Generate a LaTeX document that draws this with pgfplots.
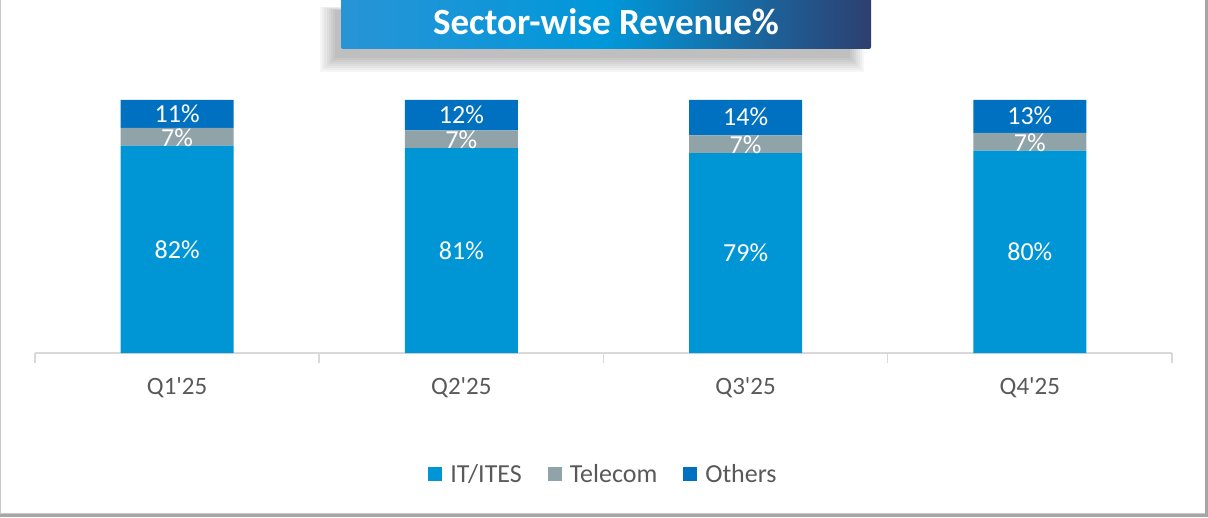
\documentclass[border=0pt]{standalone}
\usepackage{pgfplots}
\pgfplotsset{compat=1.18}
\usepackage{fontspec}
\setmainfont{Carlito}
\definecolor{itc}{HTML}{0096D6}
\definecolor{tel}{HTML}{8FA3A8}
\definecolor{oth}{HTML}{0070C0}
\definecolor{txt}{HTML}{595959}
\definecolor{axg}{HTML}{D9D9D9}
\definecolor{tl}{HTML}{2894D6}
\definecolor{tm}{HTML}{0098DA}
\definecolor{tr}{HTML}{2E3F70}
\begin{document}
\begin{tikzpicture}[x=1pt,y=1pt]
\useasboundingbox (0,0) rectangle (1208,517);
% chart frame
\draw[draw=axg!80!gray, line width=1pt] (0.5,3.5) rectangle (1205,517);
\draw[draw=gray!70, line width=2.5pt] (1206.5,2) -- (1206.5,517);
\draw[draw=gray!70, line width=2.5pt] (0,1.5) -- (1208,1.5);
% title shadow
\foreach \i in {0,...,7}{
  \fill[black, opacity=0.035] (320+\i*2.2,445+\i*2) rectangle (864-\i*2,510-\i*0.5);
}
% title box
\shade[left color=tl, right color=tr, middle color=tm, rounded corners=2pt] (341,468) rectangle (871,519);
\node[text=white, font=\fontsize{37}{44}\selectfont\bfseries] at (606,495) {Sector-wise Revenue\%};
\begin{axis}[
  at={(35pt,164pt)}, anchor=south west,
  scale only axis, width=1137pt, height=253pt,
  xmin=-0.5, xmax=3.5, ymin=0, ymax=100,
  ybar stacked, bar width=113pt,
  axis y line=none, axis x line*=bottom,
  x axis line style={draw=axg, line width=1.5pt, -},
  xtick={0,1,2,3},
  xticklabels={Q1\textquotesingle25,Q2\textquotesingle25,Q3\textquotesingle25,Q4\textquotesingle25},
  major tick length=0pt,
  minor xtick={-0.5,0.5,1.5,2.5,3.5},
  minor tick length=10pt, tick align=outside,
  minor tick style={draw=axg, line width=1.5pt},
  xticklabel style={text=txt, font=\fontsize{25}{30}\selectfont, anchor=center, yshift=-35pt},
  legend style={at={(0.5,-0.478)}, anchor=center, draw=none, fill=none,
    legend columns=3, font=\fontsize{26}{30}\selectfont, text=txt,
    /tikz/every even column/.append style={column sep=24pt},
    /tikz/every odd column/.append style={column sep=6pt}},
  legend image code/.code={\path[#1,draw=none] (0pt,-7pt) rectangle (14pt,7pt);},
  clip=false,
]
\addplot[fill=itc, draw=none] coordinates {(0,82) (1,81) (2,79) (3,80)};
\addplot[fill=tel, draw=none] coordinates {(0,7) (1,7) (2,7) (3,7)};
\addplot[fill=oth, draw=none] coordinates {(0,11) (1,12) (2,14) (3,13)};
\legend{IT/ITES, Telecom, Others}
\end{axis}
\begin{axis}[
  at={(35pt,164pt)}, anchor=south west,
  scale only axis, width=1137pt, height=253pt,
  xmin=-0.5, xmax=3.5, ymin=0, ymax=100,
  hide axis, clip=false,
]
\addplot[only marks, mark=none, nodes near coords, point meta=explicit symbolic,
  every node near coord/.style={anchor=center, inner sep=0pt, text=white, font=\fontsize{26}{26}\selectfont}]
  coordinates {
  (0,41) [82\%] (1,40.5) [81\%] (2,39.5) [79\%] (3,40) [80\%]
  (0,85.2) [7\%] (1,84.2) [7\%] (2,82.2) [7\%] (3,83.2) [7\%]
  (0,94.7) [11\%] (1,94.2) [12\%] (2,93.2) [14\%] (3,93.7) [13\%]
  };
\end{axis}
\end{tikzpicture}
\end{document}
